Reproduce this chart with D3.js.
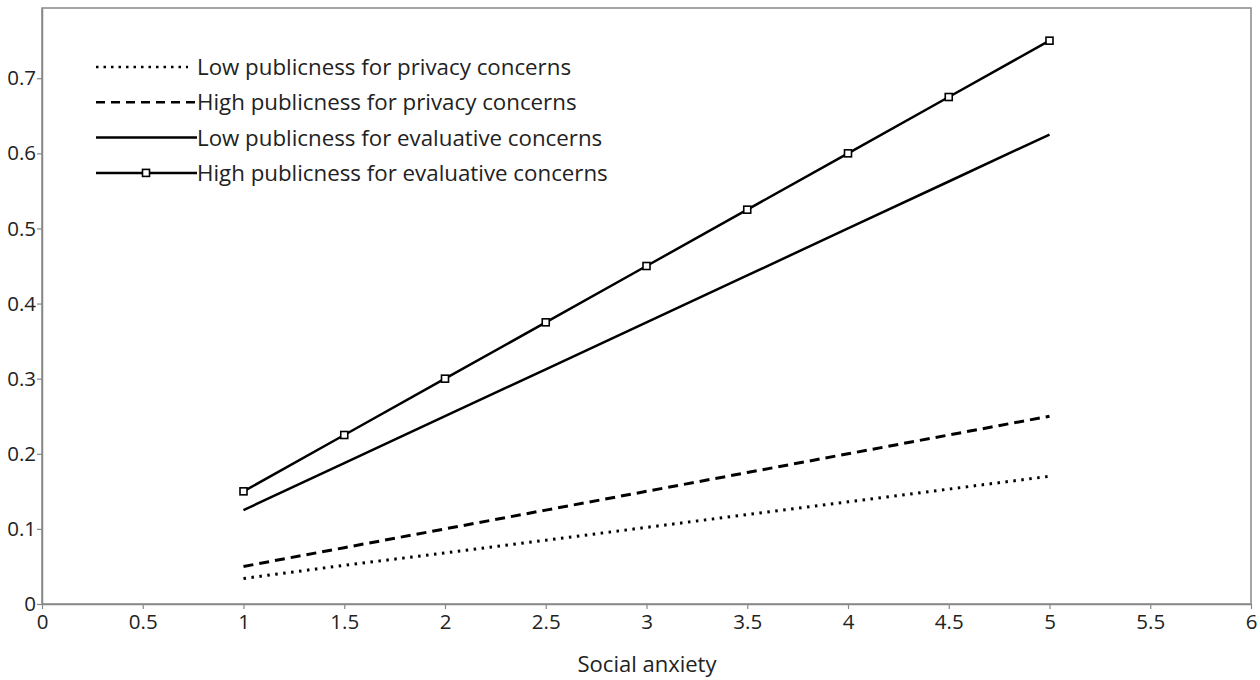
<!DOCTYPE html>
<html><head><meta charset="utf-8">
<script src="https://cdn.jsdelivr.net/npm/d3@7"></script>
<style>body{margin:0;background:#fff;} text{font-family:"Open Sans",sans-serif;fill:#222;}</style>
</head><body><svg id="c" width="1260" height="680"></svg>
<script>
const xValues = [1, 1.5, 2, 2.5, 3, 3.5, 4, 4.5, 5];
const lowPrivacy = [0.034, 0.0515, 0.068, 0.085, 0.102, 0.119, 0.136, 0.153, 0.17];
const highPrivacy = [0.05, 0.075, 0.1, 0.125, 0.15, 0.175, 0.2, 0.225, 0.25];
const lowEvaluative = [0.125, 0.1875, 0.25, 0.3125, 0.375, 0.4375, 0.5, 0.5625, 0.625];
const highEvaluative = [0.15, 0.225, 0.3, 0.375, 0.45, 0.525, 0.6, 0.675, 0.75];
const seriesNames = ["Low publicness for privacy concerns","High publicness for privacy concerns","Low publicness for evaluative concerns","High publicness for evaluative concerns"];
const xTicks = [0, 0.5, 1, 1.5, 2, 2.5, 3, 3.5, 4, 4.5, 5, 5.5, 6];
const yTicks = [0, 0.1, 0.2, 0.3, 0.4, 0.5, 0.6, 0.7];
const xTitle = "Social anxiety";

const series = [
  {name: seriesNames[0], values: lowPrivacy, dash: "2.5,5.5", legendDash: "2.5,5", legendEnd: 188, width: 3, marker: false},
  {name: seriesNames[1], values: highPrivacy, dash: "10,6", legendDash: "9,6", legendEnd: 197, width: 3, marker: false},
  {name: seriesNames[2], values: lowEvaluative, dash: null, legendDash: null, legendEnd: 197, width: 2.5, marker: false},
  {name: seriesNames[3], values: highEvaluative, dash: null, legendDash: null, legendEnd: 197, width: 2.5, marker: true}
];

const svg = d3.select("#c");
const L = 42, R = 1251, T = 8, B = 604;
const x = d3.scaleLinear().domain([0, 6]).range([L, R]);
const y = d3.scaleLinear().domain([0, 0.7935]).range([B, T]);
const axisColor = "#888";

svg.append("rect").attr("x", L).attr("y", T).attr("width", R - L).attr("height", B - T)
  .attr("fill", "none").attr("stroke", axisColor).attr("stroke-width", 1.5);

const xa = svg.append("g").attr("transform", `translate(0,${B})`)
  .call(d3.axisBottom(x).tickValues(xTicks).tickSize(5).tickSizeOuter(0).tickPadding(5).tickFormat(d => d3.format("")(d)));
const ya = svg.append("g").attr("transform", `translate(${L},0)`)
  .call(d3.axisLeft(y).tickValues(yTicks).tickSize(5).tickSizeOuter(0).tickPadding(1).tickFormat(d => d3.format("")(d)));
[xa, ya].forEach(a => {
  a.select(".domain").attr("stroke", axisColor).attr("stroke-width", 1.5);
  a.selectAll(".tick line").attr("stroke", axisColor).attr("stroke-width", 1.2);
  a.selectAll("text").style("font-family", "'Open Sans',sans-serif").style("font-size", "20.5px").attr("fill", "#222");
});

svg.append("text").attr("x", 647).attr("y", 672).attr("text-anchor", "middle")
  .style("font-size", "22px").text(xTitle);

const line = d3.line().x((d, i) => x(xValues[i])).y(d => y(d));
series.forEach(s => {
  svg.append("path").datum(s.values).attr("d", line).attr("fill", "none")
    .attr("stroke", "#000").attr("stroke-width", s.width)
    .attr("stroke-dasharray", s.dash);
  if (s.marker) {
    svg.selectAll(null).data(s.values).enter().append("rect")
      .attr("x", (d, i) => x(xValues[i]) - 3.5).attr("y", d => y(d) - 3.5)
      .attr("width", 7).attr("height", 7).attr("fill", "#fff").attr("stroke", "#000").attr("stroke-width", 1.6);
  }
});

const lg = svg.append("g");
series.forEach((s, i) => {
  const ly = 67 + i * 35.3;
  lg.append("line").attr("x1", 96).attr("x2", s.legendEnd).attr("y1", ly).attr("y2", ly)
    .attr("stroke", "#000").attr("stroke-width", 2.5)
    .attr("stroke-dasharray", s.legendDash);
  if (s.marker) {
    lg.append("rect").attr("x", 146 - 3.5).attr("y", ly - 3.5).attr("width", 7).attr("height", 7)
      .attr("fill", "#fff").attr("stroke", "#000").attr("stroke-width", 1.6);
  }
  lg.append("text").attr("x", 197).attr("y", ly + 8).style("font-size", "22.3px").text(s.name);
});
</script></body></html>
